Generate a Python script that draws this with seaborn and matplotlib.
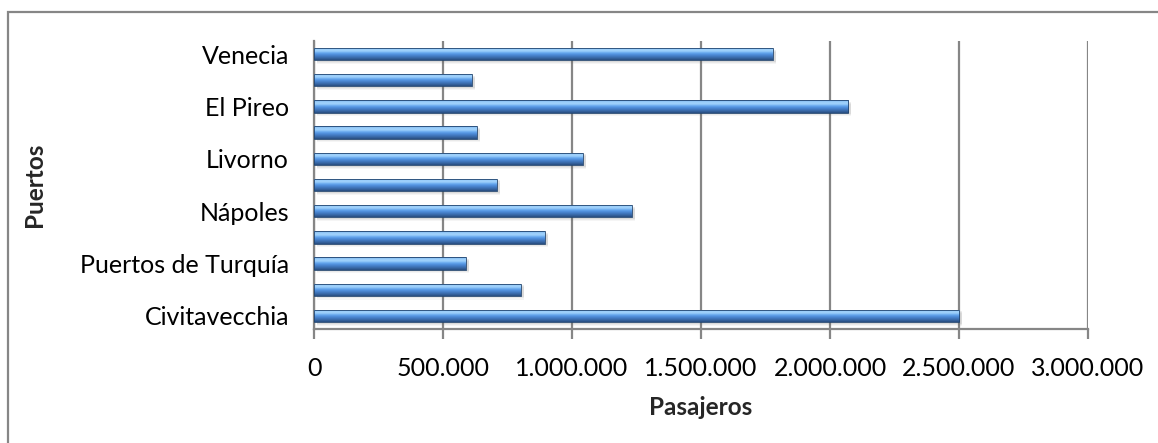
import numpy as np
import pandas as pd
import matplotlib
matplotlib.use("Agg")
import matplotlib.pyplot as plt
from matplotlib.colors import LinearSegmentedColormap
from matplotlib.patches import Rectangle
from matplotlib.ticker import FuncFormatter
import seaborn as sns

# Cruise passengers per port (top to bottom as displayed)
port_labels = ["Venecia", "", "El Pireo", "", "Livorno", "",
               "Nápoles", "", "Puertos de Turquía", "", "Civitavecchia"]
passengers = [1778000, 611000, 2070000, 631000, 1041000, 708000,
              1231000, 894000, 588000, 801000, 2500000]
x_ticks = [0, 500000, 1000000, 1500000, 2000000, 2500000, 3000000]

df = pd.DataFrame({"pos": np.arange(len(passengers)), "Pasajeros": passengers})

sns.set_theme(style="white")
plt.rcParams["font.family"] = ["Lato", "DejaVu Sans"]

W, H = 1158, 443
fig = plt.figure(figsize=(W / 100, H / 100), dpi=100)
ax = fig.add_axes([314 / W, 1 - 329 / H, (1088 - 314) / W, (329 - 41) / H])

sns.barplot(data=df, x="Pasajeros", y="pos", orient="h", order=list(df["pos"]),
            width=0.47, color="#4f8fdc", edgecolor="none", linewidth=0,
            ax=ax, zorder=3)

# Glossy vertical gradient and soft drop shadow for each bar
bar_cmap = LinearSegmentedColormap.from_list(
    "bar", [(0.0, "#4a82c8"), (0.08, "#95cbfa"), (0.30, "#a2d3fb"),
            (0.42, "#6eaef2"), (0.55, "#5393e0"), (0.72, "#4279c0"),
            (0.88, "#35629e"), (1.0, "#274b7c")])
grad = np.linspace(0, 1, 64).reshape(-1, 1)
for p in list(ax.patches):
    x0, y0 = p.get_x(), p.get_y()
    w, h = p.get_width(), p.get_height()
    for k, a in enumerate([0.10, 0.08, 0.06]):
        off = 0.06 + 0.04 * k
        ax.add_patch(Rectangle((x0 + 12000, y0 + off), w, h, facecolor="#606060",
                               edgecolor="none", alpha=a, zorder=2))
    im = ax.imshow(grad, extent=[x0, x0 + w, y0 + h, y0], aspect="auto",
                   cmap=bar_cmap, zorder=3.5, interpolation="bicubic")
    im.set_clip_path(p)
    ax.add_patch(Rectangle((x0, y0), w, h, facecolor="none",
                           edgecolor="#22456f", linewidth=0.6, zorder=4))

ax.set_xlim(0, 3000000)
ax.set_ylim(len(passengers) - 0.5, -0.5)
ax.set_xticks(x_ticks)
ax.xaxis.set_major_formatter(FuncFormatter(lambda v, _: f"{int(v):,}".replace(",", ".")))
ax.set_yticks(df["pos"])
ax.set_yticklabels(port_labels)

ax.grid(axis="x", color="#868686", linewidth=1.6, zorder=0)
ax.grid(axis="y", visible=False)
for side in ["top", "right"]:
    ax.spines[side].set_visible(False)
for side in ["left", "bottom"]:
    ax.spines[side].set_color("#868686")
    ax.spines[side].set_linewidth(1.6)

ax.tick_params(axis="x", bottom=True, direction="out", length=7, width=1.6,
               color="#868686", pad=13, labelsize=18, labelcolor="black")
ax.tick_params(axis="y", left=False, length=0, pad=18, labelsize=18,
               labelcolor="black")

ax.set_xlabel("Pasajeros", fontsize=17.5, fontweight="bold", labelpad=12)
ax.set_ylabel("Puertos", fontsize=17.5, fontweight="bold")
ax.yaxis.set_label_coords(-0.346, 0.5)

# Chart area frame
fig.patches.append(Rectangle((8 / W, -0.1), 1.2, 1 - 12 / H + 0.1,
                             transform=fig.transFigure, facecolor="none",
                             edgecolor="#868686", linewidth=1.6, zorder=0))

fig.savefig("out.png", dpi=100)
